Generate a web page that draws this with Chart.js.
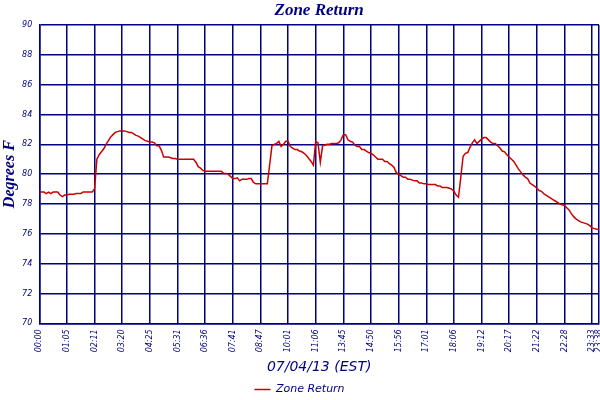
<!DOCTYPE html>
<html>
<head>
<meta charset="utf-8">
<title>Zone Return</title>
<script src="https://cdn.jsdelivr.net/npm/chart.js@4.4.1/dist/chart.umd.min.js"></script>
<style>
  html, body { margin: 0; padding: 0; background: #ffffff; }
  #chart { display: block; }
</style>
</head>
<body>
<canvas id="chart" width="600" height="400"></canvas>
<script>
// tick labels along the bottom (one every samplesPerTick readings, plus the last reading)
const tickLabels = ['00:00', '01:05', '02:11', '03:20', '04:25', '05:31', '06:36', '07:41', '08:47', '10:01',
    '11:06', '13:45', '14:50', '15:56', '17:01', '18:06', '19:12', '20:17', '21:22', '22:28', '23:33', '23:38'];
const samplesPerTick = 12;

// zone return temperature readings, degrees F
const zoneReturn = [
    78.8, 78.8, 78.8, 78.7, 78.8, 78.7, 78.8, 78.8, 78.8, 78.6, 78.5, 78.6,
    78.6, 78.65, 78.65, 78.65, 78.7, 78.7, 78.7, 78.8, 78.8, 78.8, 78.8, 78.8,
    79.0, 81.0, 81.3, 81.5, 81.7, 82.0, 82.25, 82.5, 82.65, 82.8, 82.85, 82.9,
    82.9, 82.9, 82.85, 82.8, 82.8, 82.7, 82.6, 82.55, 82.45, 82.35, 82.25, 82.2,
    82.15, 82.15, 82.1, 81.9, 81.9, 81.6, 81.15, 81.15, 81.15, 81.1, 81.05, 81.05,
    81.0, 81.0, 81.0, 81.0, 81.0, 81.0, 81.0, 81.0, 80.8, 80.5, 80.4, 80.25,
    80.2, 80.2, 80.2, 80.2, 80.2, 80.2, 80.2, 80.2, 80.05, 80.05, 80.0, 79.85,
    79.7, 79.7, 79.75, 79.55, 79.65, 79.65, 79.65, 79.7, 79.7, 79.45, 79.35, 79.35,
    79.35, 79.35, 79.35, 79.35, 80.6, 81.9, 82.0, 82.05, 82.2, 81.85, 82.0, 82.2,
    82.2, 81.85, 81.75, 81.65, 81.65, 81.55, 81.5, 81.4, 81.25, 81.05, 80.85, 80.6,
    82.2, 82.1, 80.8, 81.9, 81.95, 82.0, 82.0, 82.05, 82.05, 82.05, 82.1, 82.3,
    82.65, 82.65, 82.3, 82.2, 82.15, 81.95, 81.85, 81.85, 81.65, 81.65, 81.55, 81.45,
    81.4, 81.3, 81.15, 81.0, 81.0, 81.0, 80.85, 80.85, 80.7, 80.6, 80.45, 80.1,
    80.0, 79.9, 79.8, 79.8, 79.65, 79.65, 79.6, 79.55, 79.55, 79.4, 79.4, 79.35,
    79.35, 79.3, 79.3, 79.3, 79.3, 79.2, 79.2, 79.1, 79.1, 79.1, 79.05, 79.0,
    78.85, 78.6, 78.45, 79.8, 81.2, 81.4, 81.45, 81.8, 82.1, 82.3, 82.05, 82.2,
    82.35, 82.45, 82.45, 82.3, 82.15, 82.05, 82.05, 81.9, 81.75, 81.55, 81.5, 81.3,
    81.15, 81.0, 80.85, 80.6, 80.35, 80.15, 79.95, 79.8, 79.7, 79.4, 79.3, 79.2,
    79.05, 78.9, 78.85, 78.7, 78.6, 78.5, 78.4, 78.3, 78.2, 78.1, 78.0, 77.95,
    77.9, 77.75, 77.6, 77.35, 77.15, 77.0, 76.9, 76.8, 76.75, 76.7, 76.65, 76.55,
    76.4, 76.35, 76.3, 76.3
];

const navy = '#000080';
const lastIndex = zoneReturn.length - 1;

// sample index of every labelled tick
const tickIndex = tickLabels.map(function(label, i) {
    return i < tickLabels.length - 1 ? i * samplesPerTick : lastIndex;
});

const points = zoneReturn.map(function(v, i) {
    return { x: i, y: v };
});

const ctx = document.getElementById('chart').getContext('2d');
new Chart(ctx, {
    type: 'line',
    data: {
        datasets: [{
            label: 'Zone Return',
            data: points,
            borderColor: '#cc0000',
            backgroundColor: '#cc0000',
            borderWidth: 1.5,
            pointRadius: 0,
            fill: false,
            tension: 0
        }]
    },
    options: {
        responsive: false,
        animation: false,
        devicePixelRatio: 1,
        layout: {
            // legend keeps 10px under its row; pull it down towards the edge
            padding: { left: 0, right: 1, top: 0, bottom: -5 }
        },
        scales: {
            x: {
                type: 'linear',
                min: 0,
                max: lastIndex,
                afterBuildTicks: function(scale) {
                    scale.ticks = tickIndex.map(function(v) { return { value: v }; });
                },
                afterFit: function(scale) {
                    scale.height = 60.7;
                    scale.paddingLeft = 0;
                    scale.paddingRight = 0;
                },
                ticks: {
                    autoSkip: false,
                    minRotation: 90,
                    maxRotation: 90,
                    padding: 6,
                    color: navy,
                    font: { family: "'DejaVu Sans', sans-serif", size: 8, style: 'italic' },
                    callback: function(value, index) {
                        return tickLabels[index];
                    }
                },
                grid: { color: navy, lineWidth: 1.5, drawTicks: false },
                border: { color: navy, width: 1.5 },
                title: {
                    display: true,
                    text: '07/04/13 (EST)',
                    color: navy,
                    font: { family: "'DejaVu Sans', sans-serif", size: 14, style: 'italic' },
                    padding: { top: 0, bottom: 8.6 }
                }
            },
            y: {
                min: 70,
                max: 90,
                afterFit: function(scale) {
                    scale.width = 39.3;
                    scale.paddingTop = 0;
                    scale.paddingBottom = 0;
                },
                ticks: {
                    stepSize: 2,
                    padding: 7,
                    color: navy,
                    font: { family: "'DejaVu Sans', sans-serif", size: 8, style: 'italic' }
                },
                grid: { color: navy, lineWidth: 1.5, drawTicks: false },
                border: { color: navy, width: 1.5 },
                title: {
                    display: true,
                    text: 'Degrees F',
                    color: navy,
                    font: { family: "'Liberation Serif', serif", size: 16, style: 'italic', weight: 'bold' },
                    padding: { top: 0, bottom: 0 }
                }
            }
        },
        plugins: {
            title: {
                display: true,
                text: 'Zone Return',
                fullSize: false,
                color: navy,
                font: { family: "'Liberation Serif', serif", size: 17, style: 'italic', weight: 'bold' },
                padding: { top: 0, bottom: 4.6 }
            },
            legend: {
                display: true,
                position: 'bottom',
                labels: {
                    usePointStyle: true,
                    pointStyle: 'line',
                    pointStyleWidth: 16,
                    padding: 0,
                    color: navy,
                    font: { family: "'DejaVu Sans', sans-serif", size: 11, style: 'italic' }
                }
            },
            tooltip: { enabled: false }
        }
    }
});
</script>
</body>
</html>
